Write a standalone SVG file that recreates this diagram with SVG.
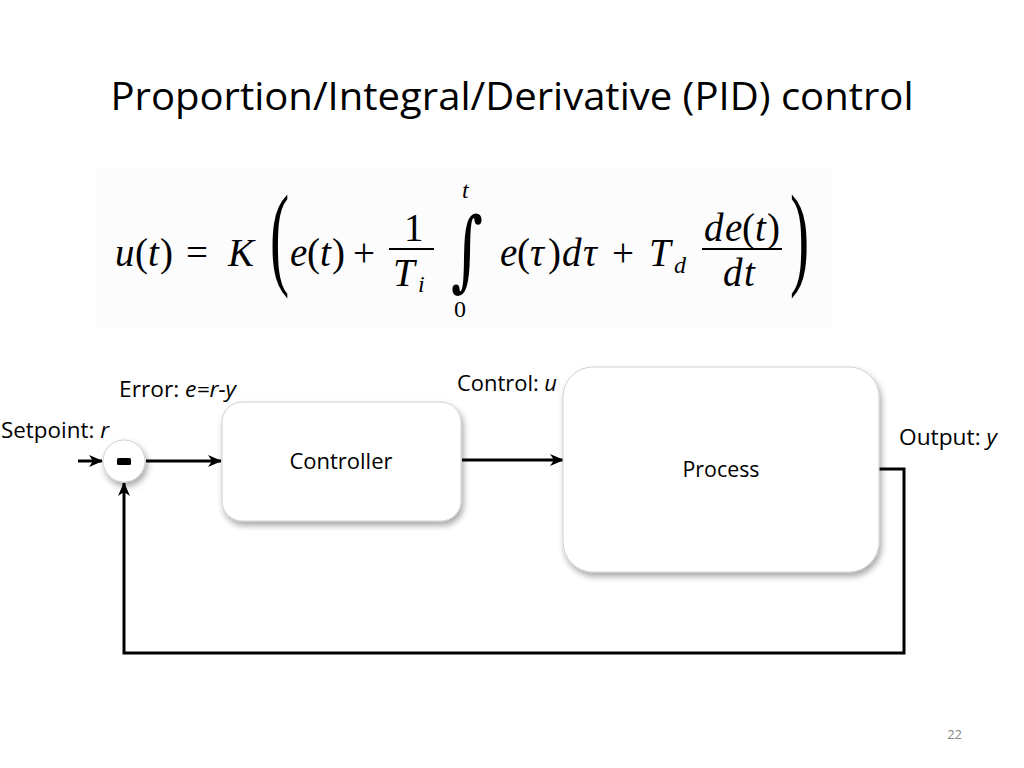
<svg xmlns="http://www.w3.org/2000/svg" width="1024" height="768" viewBox="0 0 1024 768">
<style>
.lbl{font-family:"Open Sans","Liberation Sans",sans-serif;font-size:21px;fill:#000}
.title{font-family:"Open Sans","Liberation Sans",sans-serif;font-size:39px;fill:#000}
.m{font-family:"Liberation Serif","DejaVu Serif",serif;font-size:39px;fill:#000}
.mi{font-family:"Liberation Serif","DejaVu Serif",serif;font-size:39px;font-style:italic;fill:#000}
.ms{font-family:"Liberation Serif","DejaVu Serif",serif;font-size:24px;fill:#000}
.msi{font-family:"Liberation Serif","DejaVu Serif",serif;font-size:24px;font-style:italic;fill:#000}
.box{fill:#fff;stroke:#d0d0d0;stroke-width:1;filter:url(#sh)}
.wire{fill:none;stroke:#000;stroke-width:3}
</style>
<defs>
<filter id="sh" x="-20%" y="-20%" width="140%" height="150%">
<feDropShadow dx="2" dy="4" stdDeviation="3" flood-color="#000" flood-opacity="0.35"/>
</filter>
<marker id="ah" viewBox="0 0 14 12" refX="13" refY="6" markerWidth="14" markerHeight="12" markerUnits="userSpaceOnUse" orient="auto">
<path d="M0,0 L14,6 L0,12 L4,6 z" fill="#000"/>
</marker>
</defs>
<rect width="1024" height="768" fill="#fff"/>
<text class="title" x="512" y="110" text-anchor="middle" textLength="803" lengthAdjust="spacingAndGlyphs">Proportion/Integral/Derivative (PID) control</text>

<g id="formula">
<rect x="96" y="168" width="736" height="159" fill="#fcfcfc"/>
<text class="mi" x="115" y="266">u</text>
<text class="m" x="135" y="266">(</text>
<text class="mi" x="148" y="266">t</text>
<text class="m" x="160" y="266">)</text>
<text class="m" x="186" y="266">=</text>
<text class="mi" x="228" y="266">K</text>
<text class="m" transform="translate(270,274) scale(0.5,1)" style="font-size:115px">(</text>
<text class="mi" x="290" y="266">e</text>
<text class="m" x="307" y="266">(</text>
<text class="mi" x="320" y="266">t</text>
<text class="m" x="332" y="266">)</text>
<text class="m" x="353" y="266">+</text>
<text class="m" x="404" y="241">1</text>
<line x1="389" y1="249" x2="434" y2="249" stroke="#000" stroke-width="2"/>
<text class="mi" x="393" y="286">T</text>
<text class="msi" x="418" y="292">i</text>
<text class="m" transform="translate(451,280) scale(0.7,1)" style="font-family:'DejaVu Serif',serif;font-size:88px">∫</text>
<text class="msi" x="462" y="198">t</text>
<text class="ms" x="454" y="317">0</text>
<text class="mi" x="500" y="266">e</text>
<text class="m" x="517" y="266">(</text>
<text class="mi" x="530" y="266">τ</text>
<text class="m" x="548" y="266">)</text>
<text class="mi" x="562" y="266">d</text>
<text class="mi" x="583" y="266">τ</text>
<text class="m" x="612" y="266">+</text>
<text class="mi" x="649" y="266">T</text>
<text class="msi" x="674" y="273">d</text>
<text class="mi" x="704" y="241">d</text>
<text class="mi" x="725" y="241">e</text>
<text class="m" x="742" y="241">(</text>
<text class="mi" x="755" y="241">t</text>
<text class="m" x="767" y="241">)</text>
<line x1="702" y1="249" x2="782" y2="249" stroke="#000" stroke-width="2"/>
<text class="mi" x="723" y="286">d</text>
<text class="mi" x="744" y="286">t</text>
<text class="m" transform="translate(790,274) scale(0.5,1)" style="font-size:115px">)</text>
</g>

<g id="connectors">
<line class="wire" x1="78" y1="461" x2="102" y2="461" marker-end="url(#ah)"/>
<line class="wire" x1="146" y1="461" x2="221" y2="461" marker-end="url(#ah)"/>
<line class="wire" x1="462" y1="460" x2="563" y2="460" marker-end="url(#ah)"/>
<polyline class="wire" points="879,469 904,469 904,653 124,653 124,483" marker-end="url(#ah)"/>
</g>

<g id="sum">
<circle cx="124" cy="461" r="21" class="box"/>
<rect x="117" y="458" width="14" height="7" rx="1.5" fill="#000"/>
</g>

<g id="controller">
<rect x="222" y="402" width="239" height="119" rx="20" class="box"/>
<text class="lbl" x="341" y="469" text-anchor="middle" textLength="103" lengthAdjust="spacingAndGlyphs">Controller</text>
</g>

<g id="process">
<rect x="563" y="367" width="316" height="205" rx="30" class="box"/>
<text class="lbl" x="721" y="477" text-anchor="middle" textLength="77" lengthAdjust="spacingAndGlyphs">Process</text>
</g>

<g id="labels">
<text class="lbl" x="1" y="438" textLength="108" lengthAdjust="spacingAndGlyphs">Setpoint: <tspan font-style="italic">r</tspan></text>
<text class="lbl" x="119" y="397" textLength="117" lengthAdjust="spacingAndGlyphs">Error: <tspan font-style="italic">e=r-y</tspan></text>
<text class="lbl" x="457" y="391" textLength="100" lengthAdjust="spacingAndGlyphs">Control: <tspan font-style="italic">u</tspan></text>
<text class="lbl" x="899" y="445" textLength="98" lengthAdjust="spacingAndGlyphs">Output: <tspan font-style="italic">y</tspan></text>
</g>
<text x="962" y="739" text-anchor="end" style="font-family:'Open Sans','Liberation Sans',sans-serif;font-size:13px;fill:#888">22</text>
</svg>
